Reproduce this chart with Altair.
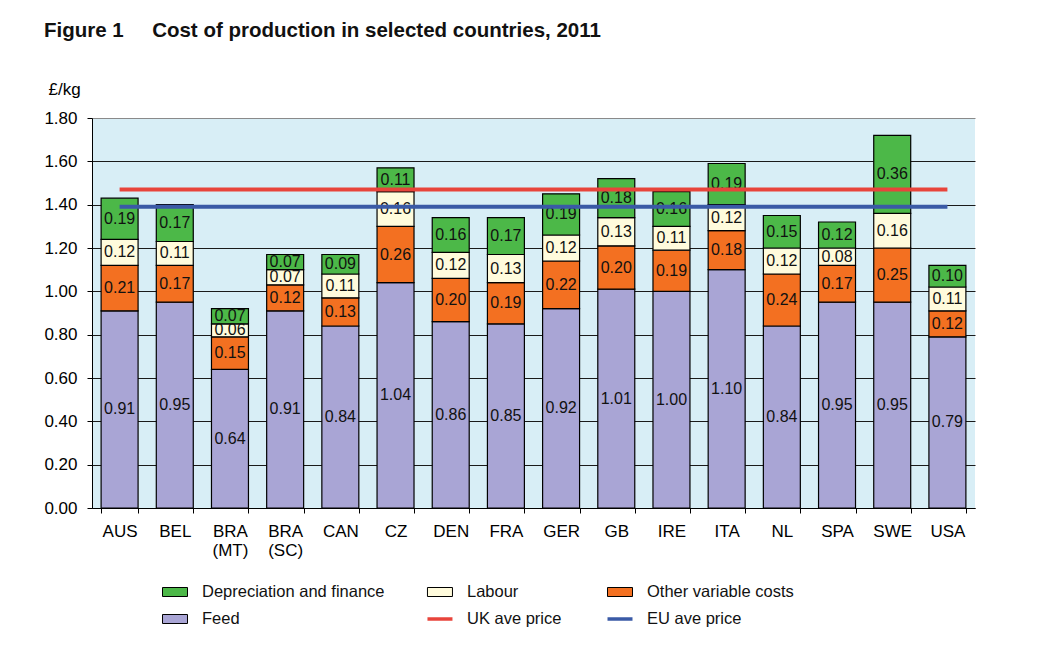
import altair as alt
import pandas as pd

countries = ["AUS", "BEL", "BRA (MT)", "BRA (SC)", "CAN", "CZ", "DEN", "FRA",
             "GER", "GB", "IRE", "ITA", "NL", "SPA", "SWE", "USA"]
feed = [0.91, 0.95, 0.64, 0.91, 0.84, 1.04, 0.86, 0.85, 0.92, 1.01, 1.00, 1.10, 0.84, 0.95, 0.95, 0.79]
other = [0.21, 0.17, 0.15, 0.12, 0.13, 0.26, 0.20, 0.19, 0.22, 0.20, 0.19, 0.18, 0.24, 0.17, 0.25, 0.12]
labour = [0.12, 0.11, 0.06, 0.07, 0.11, 0.16, 0.12, 0.13, 0.12, 0.13, 0.11, 0.12, 0.12, 0.08, 0.16, 0.11]
depr = [0.19, 0.17, 0.07, 0.07, 0.09, 0.11, 0.16, 0.17, 0.19, 0.18, 0.16, 0.19, 0.15, 0.12, 0.36, 0.10]

series = ["Feed", "Other variable costs", "Labour", "Depreciation and finance"]
series_colors = ["#a9a5d5", "#f37021", "#fffbdc", "#4cb848"]

price_names = ["UK ave price", "EU ave price"]
price_values = [1.47, 1.39]
price_colors = ["#e8443b", "#3a5aa6"]

legend_order = ["Depreciation and finance", "Labour", "Other variable costs",
                "Feed", "UK ave price", "EU ave price"]
legend_col = [0, 1, 2, 0, 1, 2]
legend_row = [0, 0, 0, 1, 1, 1]

FONT = "Liberation Sans"

# ---- long table for stacked bars ----
rows = []
for i, c in enumerate(countries):
    base = 0.0
    for s, vals in zip(series, [feed, other, labour, depr]):
        v = vals[i]
        rows.append(dict(country=c, series=s, value=v, y0=base, y1=base + v,
                         mid=base + v / 2, label=f"{v:.2f}"))
        base += v
df = pd.DataFrame(rows)

price_df = pd.DataFrame({
    "name": price_names,
    "value": price_values,
    "start": [countries[0]] * len(price_names),
    "end": [countries[-1]] * len(price_names),
})

xscale = alt.Scale(domain=countries, paddingInner=0.33, paddingOuter=0.165)
xaxis = alt.Axis(title=None, labelAngle=0, labelExpr="split(datum.label, ' ')",
                 tickBand="extent", tickSize=5, tickColor="#000", domainColor="#000",
                 labelFontSize=17, labelPadding=10, labelLineHeight=19, labelColor="#000",
                 labelOverlap=False, grid=False, labelFont=FONT)

yvals = [round(i * 0.2, 2) for i in range(10)]
yaxis = alt.Axis(values=yvals, format=".2f", title="£/kg", titleAngle=0,
                 titleAlign="left", titleBaseline="middle", titleX=-44, titleY=-29,
                 titleFontSize=17, titleFontWeight="normal", titleColor="#000", titleFont=FONT,
                 labelFontSize=17, labelColor="#000", labelPadding=10, labelFont=FONT,
                 tickSize=5, tickColor="#000", domainColor="#000",
                 gridColor={"condition": {"test": "datum.value >= 1.79", "value": "#8a8a8a"},
                            "value": "#1a1a1a"},
                 gridWidth=1.2)

base = alt.Chart(df)
bars = base.mark_bar(stroke="#000", strokeWidth=1.2).encode(
    x=alt.X("country:N", sort=countries, scale=xscale, axis=xaxis),
    y=alt.Y("y0:Q", scale=alt.Scale(domain=[0, 1.8], nice=False), axis=yaxis),
    y2="y1:Q",
    fill=alt.Fill("series:N", scale=alt.Scale(domain=series, range=series_colors), legend=None),
)
labels = base.mark_text(fontSize=16, color="#111", font=FONT, baseline="middle").encode(
    x=alt.X("country:N", sort=countries),
    y=alt.Y("mid:Q"),
    text="label:N",
)
rules = alt.Chart(price_df).mark_rule(strokeWidth=4).encode(
    x=alt.X("start:N", sort=countries),
    x2="end:N",
    y="value:Q",
    stroke=alt.Stroke("name:N", scale=alt.Scale(domain=price_names, range=price_colors), legend=None),
)

main = alt.layer(bars, labels, rules).properties(
    width=883, height=390,
    view=alt.ViewBackground(fill="#d8eef6", stroke=None),
)

# ---- legend ----
all_colors = {**dict(zip(series, series_colors)), **dict(zip(price_names, price_colors))}
leg_df = pd.DataFrame({"label": legend_order, "col": legend_col, "row": legend_row})
leg_df["kind"] = ["line" if l in price_names else "box" for l in legend_order]

lx = alt.X("col:Q", scale=alt.Scale(type="pow", exponent=0.748, domain=[0, 2], range=[83, 528]), axis=None)
ly = alt.Y("row:Q", scale=alt.Scale(domain=[0, 1], range=[10, 37]), axis=None)
lcolor = alt.Scale(domain=list(all_colors.keys()), range=list(all_colors.values()))

leg_base = alt.Chart(leg_df).encode(x=lx, y=ly)
boxes = leg_base.transform_filter("datum.kind == 'box'").mark_point(
    shape="M-1,-0.36L1,-0.36L1,0.36L-1,0.36Z", size=625, filled=True,
    stroke="#000", strokeWidth=1, opacity=1,
).encode(fill=alt.Fill("label:N", scale=lcolor, legend=None))
lines = leg_base.transform_filter("datum.kind == 'line'").mark_point(
    shape="M-1,0L1,0", size=625, filled=False, strokeWidth=3.5, opacity=1,
).encode(stroke=alt.Stroke("label:N", scale=lcolor, legend=None))
ltext = leg_base.mark_text(align="left", dx=27, fontSize=16.5, font=FONT, color="#111",
                           baseline="middle").encode(text="label:N")
legend = alt.layer(boxes, lines, ltext).properties(
    width=883, height=40, view=alt.ViewBackground(stroke=None)
)

chart = alt.vconcat(main, legend, spacing=24).properties(
    title=alt.TitleParams(
        text="Figure 1\u00a0\u00a0\u00a0\u00a0\u00a0Cost of production in selected countries, 2011",
        anchor="start", fontSize=20.5, fontWeight="bold", font=FONT, color="#111", offset=39,
    ),
    padding={"left": 35, "top": 12, "right": 5, "bottom": 5},
).configure(font=FONT).configure_view(stroke=None)

chart.save("out.html", embed_options={"renderer": "svg", "actions": False})
